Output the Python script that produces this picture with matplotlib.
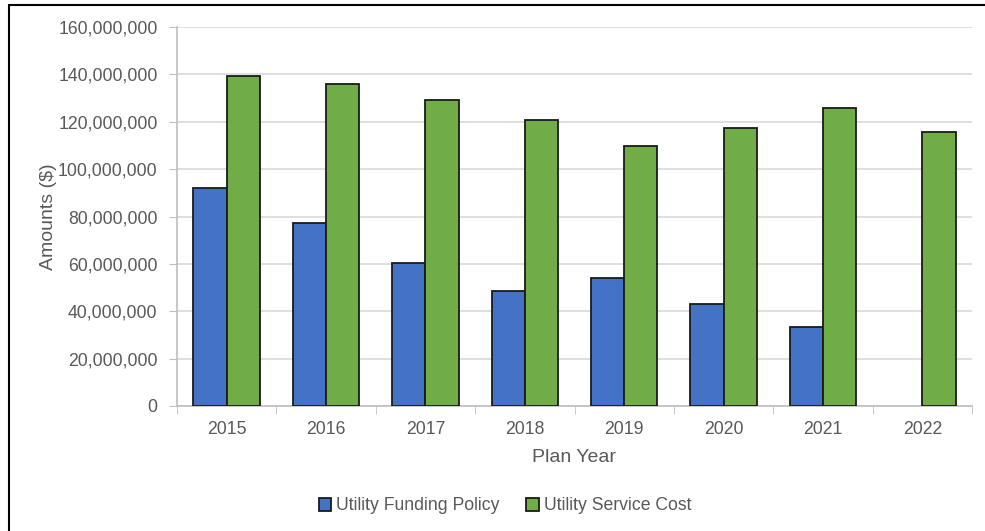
import matplotlib.pyplot as plt
import numpy as np
from matplotlib.patches import Rectangle
from matplotlib.ticker import FuncFormatter

plt.rcParams['font.family'] = ['Liberation Sans', 'DejaVu Sans']

years = ["2015", "2016", "2017", "2018", "2019", "2020", "2021", "2022"]
# no funding policy figure for 2022
funding_policy = [92.0e6, 77.3e6, 60.4e6, 48.7e6, 54.0e6, 43.0e6, 33.2e6, np.nan]
service_cost = [139.2e6, 136.0e6, 129.0e6, 120.9e6, 109.9e6, 117.4e6, 125.7e6, 115.6e6]

text_color = "#595959"
grid_color = "#d9d9d9"

fig = plt.figure(figsize=(9.85, 5.31), dpi=100)
ax = fig.add_axes([177 / 985, 1 - 406 / 531, (972 - 177) / 985, (406 - 27) / 531])

x = np.arange(len(years))
w = 0.335
ax.bar(x - w / 2, funding_policy, w, color="#4472C4", edgecolor="#1a1a1a",
       linewidth=1.3, label="Utility Funding Policy", zorder=3)
ax.bar(x + w / 2, service_cost, w, color="#70AD47", edgecolor="#1a1a1a",
       linewidth=1.3, label="Utility Service Cost", zorder=3)

ax.set_xlim(-0.5, len(years) - 0.5)
ax.set_ylim(0, 160e6)
ax.set_yticks(np.arange(0, 160e6 + 1, 20e6))
ax.yaxis.set_major_formatter(FuncFormatter(lambda v, p: f"{v:,.0f}"))
ax.grid(axis="y", color=grid_color, linewidth=1.2, zorder=0)

# category labels centred, ticks on the boundaries
ax.set_xticks(x)
ax.set_xticklabels(years)
ax.set_xticks(np.arange(-0.5, len(years)), minor=True)
ax.tick_params(axis="x", which="major", length=0, pad=11, labelsize=12.7, colors=text_color)
ax.tick_params(axis="x", which="minor", length=6, color="#bfbfbf", direction="out")
ax.tick_params(axis="y", length=6, color="#bfbfbf", labelsize=12.7, colors=text_color, pad=8)

for s in ["top", "right"]:
    ax.spines[s].set_visible(False)
for s in ["left", "bottom"]:
    ax.spines[s].set_color("#bfbfbf")
    ax.spines[s].set_linewidth(1.2)

ax.set_xlabel("Plan Year", fontsize=14, color=text_color, labelpad=8)
ax.set_ylabel("Amounts ($)", fontsize=14, color=text_color, labelpad=1)

fig.legend(loc="center", bbox_to_anchor=(505 / 985, 1 - 506 / 531), ncol=2,
           frameon=False, fontsize=12.7, labelcolor=text_color,
           handlelength=0.7, handleheight=0.7, handletextpad=0.3, columnspacing=1.5)

# outer frame
fig.patches.append(Rectangle((9 / 985, -0.1), 1.1, 1 - 5 / 531 + 0.1, transform=fig.transFigure,
                             fill=False, edgecolor="black", linewidth=1.5))

fig.savefig("out.png", dpi=100)
